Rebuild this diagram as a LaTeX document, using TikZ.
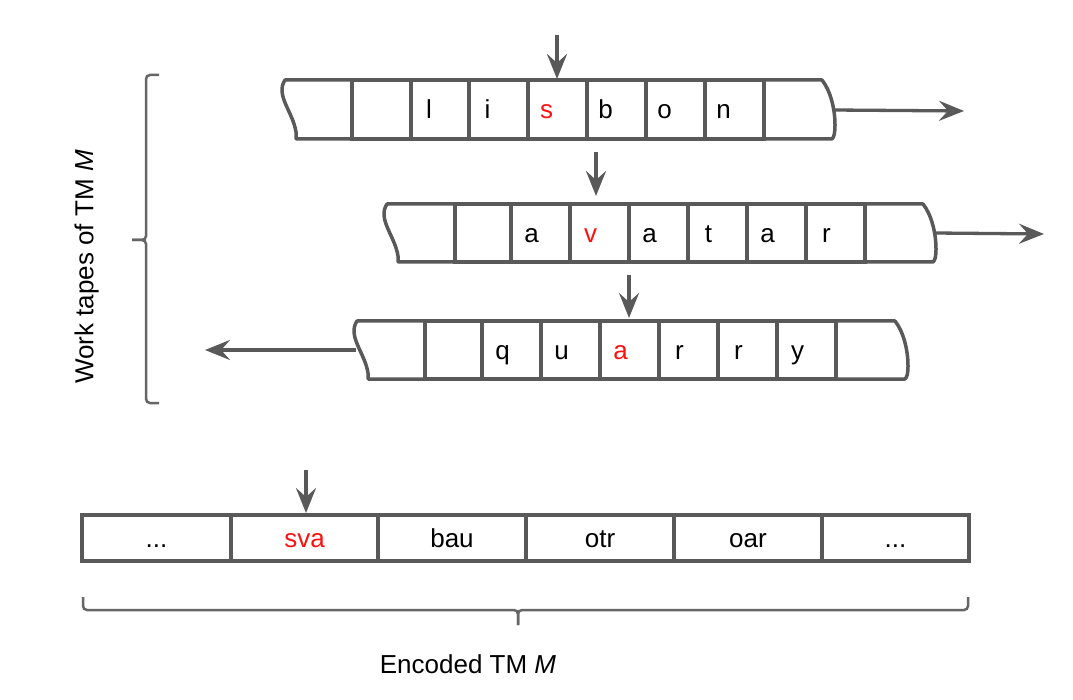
\documentclass[tikz,border=0pt]{standalone}
\usepackage{fontspec}
\setmainfont{Liberation Sans}
\usetikzlibrary{arrows.meta}
\definecolor{gc}{HTML}{595959}
\definecolor{bc}{HTML}{666666}
\definecolor{rc}{HTML}{FF1111}
\newcommand\tcell[5]{\node[cellbox, minimum width={#3-#2}, minimum height={#5-#4}] (#1) at ({(#2+#3)/2},{(#4+#5)/2}) {};}
\begin{document}
\begin{tikzpicture}[x=1pt,y=-1pt,
  tl/.style={draw=gc,line width=3.5pt,line join=round},
  cellbox/.style={draw=gc,line width=3.5pt,rectangle,inner sep=0pt,outer sep=0pt},
  sym/.style={font=\fontsize{26}{31}\selectfont,text height=18.5pt,text depth=0pt,inner sep=0pt},
  hot/.style={sym,text=rc},
  lbl/.style={font=\fontsize{26}{31}\selectfont,text height=18.5pt,text depth=0pt,inner sep=0pt},
  arr/.style={draw=gc,line width=3.3pt,-{Stealth[length=25pt,width=20pt,inset=9pt]}},
  brace/.style={draw=bc,line width=2.5pt,rounded corners=4pt}]
\useasboundingbox (0,0) rectangle (1073,700);
\fill[white] (0,0) rectangle (1073,700);

% ---------- tape 1 ----------
\tcell{a1}{352}{411}{80}{139}
\tcell{a2}{411}{469}{80}{139}
\tcell{a3}{469}{528}{80}{139}
\tcell{a4}{528}{587}{80}{139}
\tcell{a5}{587}{646}{80}{139}
\tcell{a6}{646}{705}{80}{139}
\tcell{a7}{705}{764}{80}{139}
\draw[tl] (a1.north west) -- (285,80) .. controls (275,95) and (293,112) .. (296,132) -- (296,139) -- (a1.south west);
\draw[tl] (a7.north east) -- (822,80) .. controls (830,90) and (835,108) .. (835,125) .. controls (835,133) and (834,137) .. (832,139) -- (a7.south east);
\node[sym] (s12) at ([xshift=-11pt]a2.center) {l};
\node[sym] (s13) at ([xshift=-11pt]a3.center) {i};
\node[hot] (s14) at ([xshift=-11pt]a4.center) {s};
\node[sym] (s15) at ([xshift=-11pt]a5.center) {b};
\node[sym] (s16) at ([xshift=-11pt]a6.center) {o};
\node[sym] (s17) at ([xshift=-11pt]a7.center) {n};
\coordinate (h1) at (557,35);
\draw[arr,shorten >=1pt] (h1) -- (h1 |- a4.north);
\coordinate (o1) at (833,110);
\coordinate (e1) at (964,111);
\draw[arr] (o1) -- (e1);

% ---------- tape 2 ----------
\tcell{b1}{455}{511}{204}{262}
\tcell{b2}{511}{570}{204}{262}
\tcell{b3}{570}{629}{204}{262}
\tcell{b4}{629}{688}{204}{262}
\tcell{b5}{688}{747}{204}{262}
\tcell{b6}{747}{806}{204}{262}
\tcell{b7}{806}{865}{204}{262}
\draw[tl] (b1.north west) -- (387,204) .. controls (377,219) and (395,236) .. (398,256) -- (398,262) -- (b1.south west);
\draw[tl] (b7.north east) -- (923,204) .. controls (931,214) and (936,232) .. (936,249) .. controls (936,257) and (935,260) .. (933,262) -- (b7.south east);
\node[sym] (s22) at ([xshift=-9pt]b2.center) {a};
\node[hot] (s23) at ([xshift=-9pt]b3.center) {v};
\node[sym] (s24) at ([xshift=-9pt]b4.center) {a};
\node[sym] (s25) at ([xshift=-9pt]b5.center) {t};
\node[sym] (s26) at ([xshift=-9pt]b6.center) {a};
\node[sym] (s27) at ([xshift=-9pt]b7.center) {r};
\coordinate (h2) at (596,152);
\draw[arr,shorten >=8pt] (h2) -- (h2 |- b3.north);
\coordinate (o2) at (935,233);
\coordinate (e2) at (1044,234);
\draw[arr] (o2) -- (e2);

% ---------- tape 3 ----------
\tcell{c1}{425}{482}{321}{379}
\tcell{c2}{482}{541}{321}{379}
\tcell{c3}{541}{600}{321}{379}
\tcell{c4}{600}{659}{321}{379}
\tcell{c5}{659}{718}{321}{379}
\tcell{c6}{718}{777}{321}{379}
\tcell{c7}{777}{836}{321}{379}
\draw[tl] (c1.north west) -- (357,321) .. controls (347,336) and (365,353) .. (368,373) -- (368,379) -- (c1.south west);
\draw[tl] (c7.north east) -- (895,321) .. controls (903,331) and (908,349) .. (908,366) .. controls (908,374) and (907,377) .. (905,379) -- (c7.south east);
\node[sym] (s32) at ([xshift=-9pt]c2.center) {q};
\node[sym] (s33) at ([xshift=-9pt]c3.center) {u};
\node[hot] (s34) at ([xshift=-9pt]c4.center) {a};
\node[sym] (s35) at ([xshift=-9pt]c5.center) {r};
\node[sym] (s36) at ([xshift=-9pt]c6.center) {r};
\node[sym] (s37) at ([xshift=-9pt]c7.center) {y};
\coordinate (h3) at (629,275);
\draw[arr,shorten >=3pt] (h3) -- (h3 |- c4.north);
\coordinate (o3) at (356,350);
\coordinate (e3) at (205,350);
\draw[arr] (o3) -- (e3);

% ---------- encoded tape ----------
\tcell{d1}{82}{231}{515}{561}
\tcell{d2}{231}{378}{515}{561}
\tcell{d3}{378}{526}{515}{561}
\tcell{d4}{526}{674}{515}{561}
\tcell{d5}{674}{822}{515}{561}
\tcell{d6}{822}{969}{515}{561}
\node[sym] (s41) at (d1.center) {...};
\node[hot] (s42) at (d2.center) {sva};
\node[sym] (s43) at (d3.center) {bau};
\node[sym] (s44) at (d4.center) {otr};
\node[sym] (s45) at (d5.center) {oar};
\node[sym] (s46) at (d6.center) {...};
\coordinate (h4) at (306,470);
\draw[arr,shorten >=2pt] (h4) -- (h4 |- d2.north);

% ---------- braces ----------
\draw[brace] (159,75) -- (146,75) -- (146,240) -- (132,240);
\draw[brace] (159,403) -- (146,403) -- (146,240) -- (132,240);
\draw[brace] (83,597) -- (83,610) -- (518,610) -- (518,625);
\draw[brace] (968,597) -- (968,610) -- (518,610) -- (518,625);

% ---------- labels ----------
\node[lbl] (enc) at (468,664) {Encoded TM \textit{M}};
\node[lbl,rotate=90] (wt) at (84,267) {Work tapes of TM \textit{M}};
\end{tikzpicture}
\end{document}
